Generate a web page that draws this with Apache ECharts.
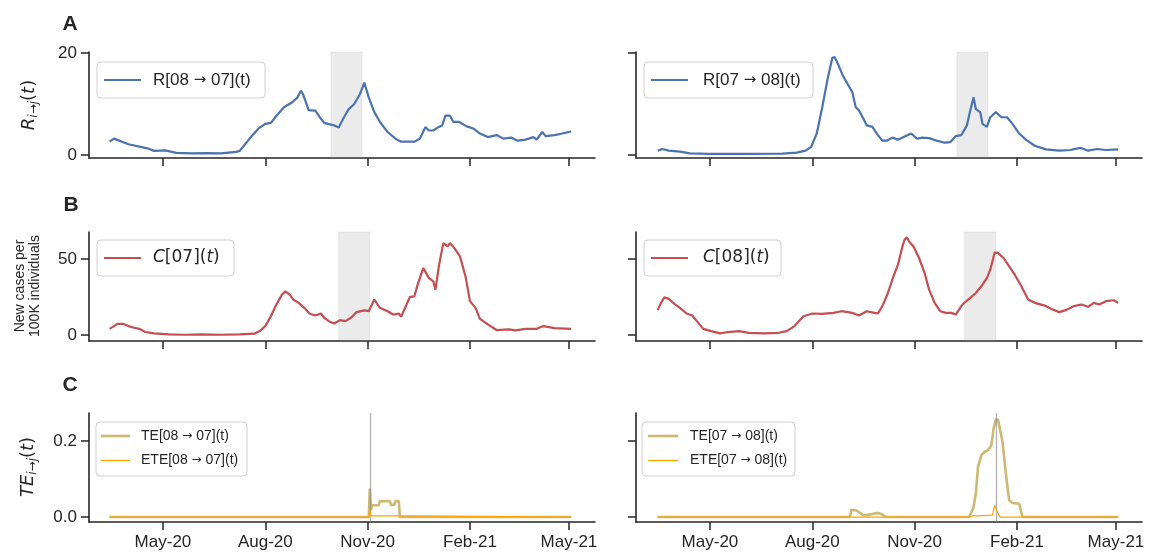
<!DOCTYPE html>
<html>
<head>
<meta charset="utf-8">
<script src="https://cdn.jsdelivr.net/npm/echarts@6.0.0/dist/echarts.min.js"></script>
<style>
html,body{margin:0;padding:0;background:#ffffff;}
#chart{width:1157px;height:557px;}
</style>
</head>
<body>
<div id="chart"></div>
<script>
// ---------------- ticks & ranges ----------------
const xTickDates  = ['2020-05-01','2020-08-01','2020-11-01','2021-02-01','2021-05-01'];
const xTickLabels = ['May-20','Aug-20','Nov-20','Feb-21','May-21'];
const xRangeStart = '2020-02-24 12';
const xRangeEnd   = '2021-05-24 10';
const yTicksR  = [0, 20];
const yTicksC  = [0, 50];
const yTicksTE = [0, 0.2];
const yRangeR  = [-0.6, 20.2];
const yRangeC  = [-3.9, 67.8];
const yRangeTE = [-0.013, 0.274];

// ---------------- names ----------------
const nameR87 = 'R[08 → 07](t)';
const nameR78 = 'R[07 → 08](t)';
const nameC07 = 'C[07](t)';
const nameC08 = 'C[08](t)';
const nameTE87 = 'TE[08 → 07](t)';
const nameETE87 = 'ETE[08 → 07](t)';
const nameTE78 = 'TE[07 → 08](t)';
const nameETE78 = 'ETE[07 → 08](t)';

// ---------------- shaded windows / markers ----------------
const spanRLeft  = ['2020-09-29','2020-10-27'];
const spanRRight = ['2020-12-09','2021-01-06'];
const spanCLeft  = ['2020-10-06','2020-11-03'];
const spanCRight = ['2020-12-16','2021-01-13'];
const markTELeft  = '2020-11-03';
const markTERight = '2021-01-13';

// ---------------- data ----------------
const rLeft = [
 ['2020-03-14',2.6],['2020-03-18',3.2],['2020-03-31',2.1],['2020-04-17',1.3],['2020-04-23',0.8],
 ['2020-05-03',0.9],['2020-05-13',0.4],['2020-05-27',0.3],['2020-06-09',0.35],['2020-06-22',0.3],
 ['2020-07-06',0.6],['2020-07-09',0.8],['2020-07-12',1.6],['2020-07-19',3.5],['2020-07-26',5.2],
 ['2020-08-01',6.1],['2020-08-06',6.3],['2020-08-11',7.7],['2020-08-18',9.4],['2020-08-25',10.3],
 ['2020-08-30',11.3],['2020-09-02',12.6],['2020-09-04',11.9],['2020-09-09',8.8],['2020-09-15',8.7],
 ['2020-09-20',7.1],['2020-09-23',6.3],['2020-09-28',6.0],['2020-10-02',5.8],['2020-10-06',5.4],
 ['2020-10-10',7.1],['2020-10-15',9.0],['2020-10-20',10.0],['2020-10-25',11.9],['2020-10-29',14.2],
 ['2020-10-30',13.9],['2020-11-02',11.3],['2020-11-07',8.4],['2020-11-12',6.5],['2020-11-19',4.5],
 ['2020-11-26',3.2],['2020-12-01',2.6],['2020-12-06',2.6],['2020-12-13',2.6],['2020-12-18',3.2],
 ['2020-12-23',5.5],['2020-12-26',4.8],['2020-12-30',4.8],['2021-01-04',5.5],['2021-01-07',5.8],
 ['2021-01-10',7.7],['2021-01-14',7.7],['2021-01-17',6.5],['2021-01-22',6.5],['2021-01-29',5.6],
 ['2021-02-04',5.2],['2021-02-10',4.2],['2021-02-17',3.5],['2021-02-25',3.9],['2021-03-03',3.2],
 ['2021-03-10',3.4],['2021-03-16',2.8],['2021-03-23',3.0],['2021-03-30',3.5],['2021-04-02',3.0],
 ['2021-04-07',4.5],['2021-04-10',3.7],['2021-04-18',3.9],['2021-04-25',4.2],['2021-05-03',4.6]
];
const rRight = [
 ['2020-03-15',0.84],['2020-03-19',1.16],['2020-03-25',0.84],['2020-04-04',0.65],['2020-04-13',0.32],
 ['2020-04-30',0.2],['2020-06-02',0.2],['2020-07-05',0.26],['2020-07-18',0.45],['2020-07-26',0.84],
 ['2020-07-31',1.6],['2020-08-05',4.2],['2020-08-10',9.4],['2020-08-15',15.2],['2020-08-19',19.0],
 ['2020-08-21',19.2],['2020-08-23',18.4],['2020-08-28',15.8],['2020-09-01',14.2],['2020-09-06',12.3],
 ['2020-09-09',9.4],['2020-09-12',8.7],['2020-09-16',7.1],['2020-09-19',5.8],['2020-09-24',5.5],
 ['2020-09-29',3.9],['2020-10-03',2.8],['2020-10-07',2.8],['2020-10-12',3.4],['2020-10-17',3.0],
 ['2020-10-24',3.7],['2020-10-29',4.2],['2020-11-03',3.2],['2020-11-08',3.4],['2020-11-14',3.3],
 ['2020-11-21',2.8],['2020-11-28',2.4],['2020-12-03',2.5],['2020-12-08',3.7],['2020-12-13',3.9],
 ['2020-12-18',5.8],['2020-12-21',8.7],['2020-12-24',11.3],['2020-12-26',9.0],['2020-12-30',8.4],
 ['2021-01-01',6.1],['2021-01-05',5.5],['2021-01-08',7.4],['2021-01-13',8.4],['2021-01-18',7.4],
 ['2021-01-23',7.4],['2021-01-28',6.1],['2021-02-03',4.2],['2021-02-09',3.0],['2021-02-17',1.8],
 ['2021-02-27',1.1],['2021-03-11',0.84],['2021-03-21',0.97],['2021-03-30',1.4],['2021-04-06',0.84],
 ['2021-04-14',1.16],['2021-04-22',0.97],['2021-05-03',1.1]
];
const cases07 = [
 ['2020-03-14',4.1],['2020-03-18',5.9],['2020-03-21',7.4],['2020-03-26',7.4],['2020-03-31',5.9],
 ['2020-04-05',4.8],['2020-04-10',4.1],['2020-04-15',2.0],['2020-04-23',1.1],['2020-05-06',0.4],
 ['2020-05-20',0.2],['2020-06-05',0.4],['2020-06-22',0.2],['2020-07-09',0.4],['2020-07-22',0.9],
 ['2020-07-27',2.6],['2020-08-01',5.9],['2020-08-06',12.4],['2020-08-11',20.1],['2020-08-16',26.6],
 ['2020-08-19',28.8],['2020-08-23',26.6],['2020-08-26',23.4],['2020-08-31',21.2],['2020-09-05',17.9],
 ['2020-09-10',14.0],['2020-09-15',12.9],['2020-09-20',14.2],['2020-09-23',11.4],['2020-09-28',8.7],
 ['2020-10-02',7.6],['2020-10-07',9.8],['2020-10-12',9.2],['2020-10-17',11.4],['2020-10-22',15.1],
 ['2020-10-29',16.2],['2020-11-02',15.7],['2020-11-07',23.4],['2020-11-12',17.9],['2020-11-19',15.7],
 ['2020-11-24',13.5],['2020-11-29',14.2],['2020-12-01',12.0],['2020-12-06',20.1],['2020-12-09',25.1],
 ['2020-12-13',25.5],['2020-12-16',33.2],['2020-12-21',44.1],['2020-12-26',37.6],['2020-12-30',35.4],
 ['2021-01-01',29.9],['2021-01-04',45.2],['2021-01-08',60.5],['2021-01-12',58.3],['2021-01-14',60.5],
 ['2021-01-18',57.2],['2021-01-23',51.7],['2021-01-28',38.6],['2021-02-01',22.3],['2021-02-06',17.9],
 ['2021-02-10',10.7],['2021-02-17',7.0],['2021-02-25',3.3],['2021-03-08',3.7],['2021-03-14',3.1],
 ['2021-03-23',4.1],['2021-04-02',4.1],['2021-04-08',5.9],['2021-04-18',4.6],['2021-05-03',4.1]
];
const cases08 = [
 ['2020-03-15',16.4],['2020-03-18',21.2],['2020-03-21',24.9],['2020-03-25',23.8],['2020-03-30',20.5],
 ['2020-04-04',17.9],['2020-04-10',14.2],['2020-04-15',12.9],['2020-04-20',8.5],['2020-04-25',4.1],
 ['2020-05-02',2.6],['2020-05-10',1.1],['2020-05-17',2.0],['2020-05-27',2.6],['2020-06-05',1.5],
 ['2020-06-19',1.1],['2020-07-02',1.5],['2020-07-09',2.6],['2020-07-16',5.9],['2020-07-24',12.4],
 ['2020-08-01',14.2],['2020-08-10',14.0],['2020-08-20',14.6],['2020-08-27',15.7],['2020-09-06',14.6],
 ['2020-09-12',12.9],['2020-09-19',15.7],['2020-09-26',14.6],['2020-09-29',14.2],['2020-10-03',19.0],
 ['2020-10-08',27.7],['2020-10-13',38.6],['2020-10-17',46.3],['2020-10-21',58.3],['2020-10-23',62.7],
 ['2020-10-25',64.4],['2020-10-27',61.6],['2020-10-31',58.3],['2020-11-05',50.7],['2020-11-10',40.8],
 ['2020-11-14',29.9],['2020-11-19',21.2],['2020-11-24',15.7],['2020-11-29',14.6],['2020-12-04',14.6],
 ['2020-12-08',13.5],['2020-12-14',20.1],['2020-12-21',24.5],['2020-12-26',27.7],['2020-12-31',32.1],
 ['2021-01-05',37.6],['2021-01-08',43.0],['2021-01-12',54.4],['2021-01-15',53.9],['2021-01-20',50.7],
 ['2021-01-25',45.2],['2021-01-30',39.7],['2021-02-05',32.1],['2021-02-11',23.4],['2021-02-17',21.2],
 ['2021-02-26',19.4],['2021-03-04',17.2],['2021-03-11',15.1],['2021-03-17',16.4],['2021-03-24',19.0],
 ['2021-03-31',20.1],['2021-04-06',18.6],['2021-04-11',21.2],['2021-04-16',20.1],['2021-04-22',22.3],
 ['2021-04-29',22.9],['2021-05-03',21.2]
];
const te87 = [
 ['2020-03-14',0],['2020-11-02',0],['2020-11-03',0.075],['2020-11-04',0.018],['2020-11-05',0.031],
 ['2020-11-11',0.031],['2020-11-12',0.042],['2020-11-21',0.042],['2020-11-22',0.032],['2020-11-25',0.032],
 ['2020-11-26',0.042],['2020-11-29',0.042],['2020-11-30',0],['2021-05-03',0]
];
const ete87 = [
 ['2020-03-14',0],['2020-11-02',0],['2020-11-03',0.02],['2020-11-04',0.003],['2020-11-29',0.003],
 ['2020-11-30',0],['2021-05-03',0]
];
const te78 = [
 ['2020-03-15',0],['2020-09-04',0],['2020-09-05',0.019],['2020-09-09',0.018],['2020-09-14',0.009],
 ['2020-09-16',0.004],['2020-09-22',0.007],['2020-09-29',0.011],['2020-10-03',0.007],['2020-10-06',0],
 ['2020-12-20',0],['2020-12-21',0.004],['2020-12-24',0.026],['2020-12-26',0.062],['2020-12-28',0.132],
 ['2020-12-31',0.163],['2021-01-03',0.172],['2021-01-06',0.176],['2021-01-09',0.189],['2021-01-11',0.233],
 ['2021-01-13',0.257],['2021-01-15',0.256],['2021-01-16',0.242],['2021-01-19',0.198],['2021-01-22',0.115],
 ['2021-01-25',0.044],['2021-01-28',0.037],['2021-02-03',0.035],['2021-02-06',0],['2021-05-03',0]
];
const ete78 = [
 ['2020-03-15',0],['2020-12-20',0],['2020-12-24',0.004],['2020-12-27',0.003],['2021-01-10',0.005],
 ['2021-01-12',0.031],['2021-01-13',0.028],['2021-01-15',0.009],['2021-01-17',0],['2021-05-03',0]
];

// ---------------- styling constants ----------------
const INK = '#262626';
const BLUE = '#4c72b0';
const RED = '#c44e52';
const TAN = '#ccb974';
const ORANGE = '#ffa500';
const SANS = '"Liberation Sans", Arial, sans-serif';

function ts(s) {
  const p = s.split(/[- :T]/).map(Number);
  return new Date(p[0], p[1]-1, p[2], p[3]||0, p[4]||0).getTime();
}
const toXY = arr => arr.map(d => [ts(d[0]), d[1]]);
const xTickTs = xTickDates.map(ts);
const xMin = ts(xRangeStart), xMax = ts(xRangeEnd);

const panels = [
  {grid:{left:89, top:52, width:506, height:106}, yr:yRangeR, yt:yTicksR, ylab:true, xlab:false, fmt:v=>String(v)},
  {grid:{left:636, top:52, width:506, height:106}, yr:yRangeR, yt:yTicksR, ylab:false, xlab:false, fmt:v=>String(v)},
  {grid:{left:89, top:232, width:506, height:109}, yr:yRangeC, yt:yTicksC, ylab:true, xlab:false, fmt:v=>String(v)},
  {grid:{left:636, top:232, width:506, height:109}, yr:yRangeC, yt:yTicksC, ylab:false, xlab:false, fmt:v=>String(v)},
  {grid:{left:89, top:413, width:506, height:109}, yr:yRangeTE, yt:yTicksTE, ylab:true, xlab:true, fmt:v=>v.toFixed(1)},
  {grid:{left:636, top:413, width:506, height:109}, yr:yRangeTE, yt:yTicksTE, ylab:false, xlab:true, fmt:v=>v.toFixed(1)}
];

const grids = [], xAxes = [], yAxes = [];
panels.forEach((p, i) => {
  grids.push(Object.assign({containLabel:false, outerBoundsMode:'none'}, p.grid));
  xAxes.push({
    type:'value', gridIndex:i, min:xMin, max:xMax,
    axisLine:{show:true, onZero:false, lineStyle:{color:INK, width:1.6}},
    axisTick:{show:true, length:8, customValues:xTickTs, lineStyle:{color:INK, width:1.5}},
    axisLabel:{show:p.xlab, customValues:xTickTs, margin:12, fontSize:17, color:INK, fontFamily:SANS,
      formatter:(v)=>{const k = xTickTs.indexOf(v); return k>=0 ? xTickLabels[k] : '';}},
    splitLine:{show:false}, minorTick:{show:false}
  });
  yAxes.push({
    type:'value', gridIndex:i, min:p.yr[0], max:p.yr[1],
    axisLine:{show:true, lineStyle:{color:INK, width:1.6}},
    axisTick:{show:true, length:8, customValues:p.yt, lineStyle:{color:INK, width:1.5}},
    axisLabel:{show:p.ylab, customValues:p.yt, margin:12, fontSize:17, color:INK, fontFamily:SANS, formatter:p.fmt},
    splitLine:{show:false}
  });
});

function line(idx, name, data, color, width, z) {
  return {type:'line', name, xAxisIndex:idx, yAxisIndex:idx, data:toXY(data), symbol:'none', showSymbol:false,
    lineStyle:{color, width}, itemStyle:{color}, z, silent:true, animation:false};
}
function spanSeries(idx, span) {
  return {type:'line', xAxisIndex:idx, yAxisIndex:idx, data:[], z:1, silent:true, animation:false,
    markArea:{silent:true, itemStyle:{color:'rgba(128,128,128,0.16)', borderColor:'rgba(128,128,128,0.12)', borderWidth:1},
      data:[[{xAxis:ts(span[0])},{xAxis:ts(span[1])}]]}};
}
function vlineSeries(idx, date) {
  return {type:'line', xAxisIndex:idx, yAxisIndex:idx, data:[], z:4, silent:true, animation:false,
    markLine:{silent:true, symbol:['none','none'], label:{show:false},
      lineStyle:{color:'rgba(128,128,128,0.6)', width:1.3, type:'solid'}, data:[{xAxis:ts(date)}]}};
}

const series = [
  spanSeries(0, spanRLeft), line(0, nameR87, rLeft, BLUE, 2.2, 3),
  spanSeries(1, spanRRight), line(1, nameR78, rRight, BLUE, 2.2, 3),
  spanSeries(2, spanCLeft), line(2, nameC07, cases07, RED, 2.2, 3),
  spanSeries(3, spanCRight), line(3, nameC08, cases08, RED, 2.2, 3),
  line(4, nameTE87, te87, TAN, 2.6, 3), line(4, nameETE87, ete87, ORANGE, 1.2, 5), vlineSeries(4, markTELeft),
  line(5, nameTE78, te78, TAN, 2.6, 3), line(5, nameETE78, ete78, ORANGE, 1.2, 5), vlineSeries(5, markTERight)
];

// ---------------- graphic: letters, axis titles, legends ----------------
const graphics = [];
function txt(x, y, text, font, extra) {
  return Object.assign({type:'text', x, y, z:100, silent:true,
    style:{text, font, fill:INK, align:'center', verticalAlign:'middle', textAlign:'center', textVerticalAlign:'middle'}}, extra||{});
}
graphics.push(txt(70, 24, 'A', 'bold 21px ' + SANS));
graphics.push(txt(71, 205, 'B', 'bold 21px ' + SANS));
graphics.push(txt(70, 385, 'C', 'bold 21px ' + SANS));

const mathRich = {
  it:{fontFamily:'DejaVu Sans', fontStyle:'italic', fontSize:18, fill:INK, color:INK},
  rm:{fontFamily:'DejaVu Sans', fontSize:18, fill:INK, color:INK},
  sub:{fontFamily:'DejaVu Sans', fontStyle:'italic', fontSize:12, fill:INK, color:INK, padding:[9,0,0,0]}
};
function mathLabel(x, y, text) {
  return {type:'text', x, y, rotation:Math.PI/2, z:100, silent:true,
    style:{text, rich:mathRich, fill:INK, align:'center', verticalAlign:'middle', textAlign:'center', textVerticalAlign:'middle'}};
}
graphics.push(mathLabel(29, 105, '{it|R}{sub|i→j}{rm|(}{it|t}{rm|)}'));
graphics.push(mathLabel(28, 467, '{it|TE}{sub|i→j}{rm|(}{it|t}{rm|)}'));
graphics.push({type:'text', x:28, y:286, rotation:Math.PI/2, z:100, silent:true,
  style:{text:'New cases per\n100K individuals', font:'14px ' + SANS, lineHeight:15, fill:INK,
    align:'center', verticalAlign:'middle', textAlign:'center', textVerticalAlign:'middle'}});

// legend label renderers: arrow glyph taken from DejaVu Sans so it sits at mid-height
function arrowRich(size) {
  return {
    t:{fontFamily:'Liberation Sans', fontSize:size, fill:INK, color:INK},
    a:{fontFamily:'DejaVu Sans', fontSize:size - 2, fill:INK, color:INK}
  };
}
function arrowText(name) {
  return name.split('→').map(s => '{t|' + s + '}').join('{a|→}');
}
function legendBox(x, y, w, h, items, lineX0, lineX1, textX) {
  graphics.push({type:'rect', z:90, silent:true, shape:{x, y, width:w, height:h, r:4},
    style:{fill:'rgba(255,255,255,0.85)', stroke:'#d0d0d0', lineWidth:1}});
  items.forEach(it => {
    graphics.push({type:'line', z:91, silent:true, shape:{x1:x+lineX0, y1:it.ly, x2:x+lineX1, y2:it.ly},
      style:{stroke:it.color, lineWidth:it.lw}});
    graphics.push({type:'text', x:x+textX, y:it.y, z:92, silent:true,
      style:{text:it.text, rich:it.rich, fill:INK, align:'left', verticalAlign:'middle', textAlign:'left', textVerticalAlign:'middle'}});
  });
}
const legRich = {
  it:{fontFamily:'DejaVu Sans', fontStyle:'italic', fontSize:17, fill:INK, color:INK},
  rm:{fontFamily:'DejaVu Sans', fontSize:17, fill:INK, color:INK}
};
legendBox(97, 62, 168, 36, [{y:80, ly:80, color:BLUE, lw:2.2, text:arrowText(nameR87), rich:arrowRich(17)}], 7, 44, 56);
legendBox(644, 62, 169, 36, [{y:80, ly:80, color:BLUE, lw:2.2, text:arrowText(nameR78), rich:arrowRich(17)}], 7, 44, 59);
legendBox(97, 240, 137, 36, [{y:258, ly:258, color:RED, lw:2.2, text:'{it|C}{rm|[07](}{it|t}{rm|)}', rich:legRich}], 7, 44, 56);
legendBox(644, 240, 137, 36, [{y:258, ly:258, color:RED, lw:2.2, text:'{it|C}{rm|[08](}{it|t}{rm|)}', rich:legRich}], 7, 44, 59);
legendBox(96, 422, 151, 54, [
  {y:436, ly:436, color:TAN, lw:2.6, text:arrowText(nameTE87), rich:arrowRich(14)},
  {y:460, ly:460.5, color:ORANGE, lw:1.3, text:arrowText(nameETE87), rich:arrowRich(14)}], 5, 34, 45);
legendBox(642, 422, 153, 54, [
  {y:436, ly:436, color:TAN, lw:2.6, text:arrowText(nameTE78), rich:arrowRich(14)},
  {y:460, ly:460.5, color:ORANGE, lw:1.3, text:arrowText(nameETE78), rich:arrowRich(14)}], 6, 36, 48);

const chart = echarts.init(document.getElementById('chart'), null, {renderer:'canvas'});
chart.setOption({
  backgroundColor:'#ffffff',
  animation:false,
  grid:grids, xAxis:xAxes, yAxis:yAxes, series, graphic:graphics,
  tooltip:{show:false}
});
</script>
</body>
</html>
